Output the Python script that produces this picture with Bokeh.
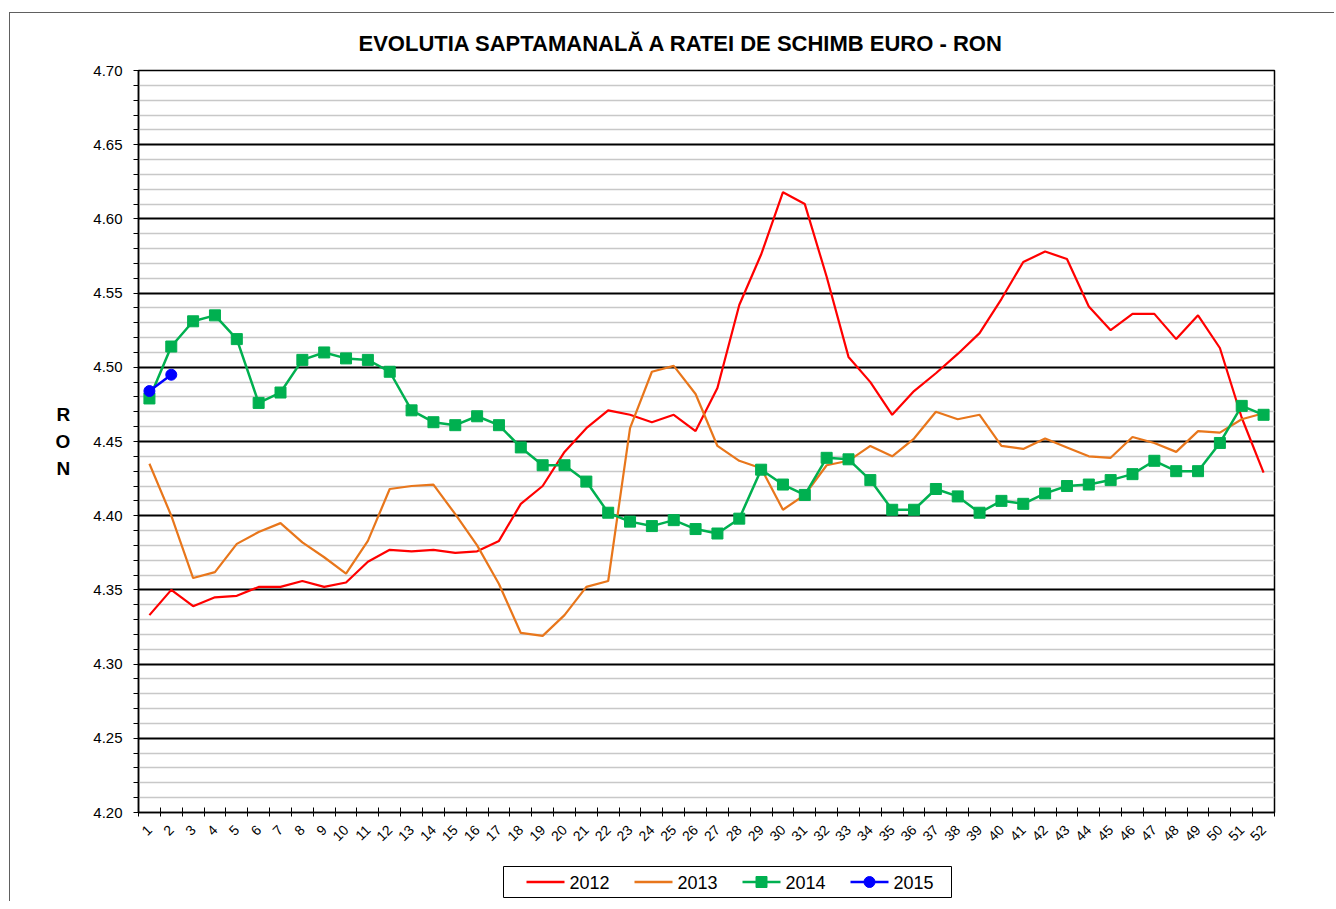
import math
from bokeh.plotting import figure
from bokeh.layouts import column
from bokeh.models import FixedTicker, NumeralTickFormatter, Range1d
from bokeh.core.properties import value
from bokeh.embed import file_html
from bokeh.resources import INLINE

weeks = list(range(1, 53))

y2012 = [4.333, 4.350, 4.339, 4.345, 4.346, 4.352, 4.352, 4.356, 4.352, 4.355,
         4.369, 4.377, 4.376, 4.377, 4.375, 4.376, 4.383, 4.408, 4.420, 4.443,
         4.459, 4.471, 4.468, 4.463, 4.468, 4.457, 4.486, 4.542, 4.576, 4.618,
         4.610, 4.561, 4.507, 4.490, 4.468, 4.484, 4.496, 4.509, 4.523, 4.546,
         4.571, 4.578, 4.573, 4.541, 4.525, 4.536, 4.536, 4.519, 4.535, 4.513,
         4.466, 4.429]

y2013 = [4.435, 4.400, 4.358, 4.362, 4.381, 4.389, 4.395, 4.382, 4.372, 4.361,
         4.383, 4.418, 4.420, 4.421, 4.401, 4.380, 4.354, 4.321, 4.319, 4.333,
         4.352, 4.356, 4.459, 4.497, 4.501, 4.482, 4.447, 4.437, 4.432, 4.404,
         4.414, 4.434, 4.437, 4.447, 4.440, 4.452, 4.470, 4.465, 4.468, 4.447,
         4.445, 4.452, 4.446, 4.440, 4.439, 4.453, 4.449, 4.443, 4.457, 4.456,
         4.465, 4.469]

y2014 = [4.479, 4.514, 4.531, 4.535, 4.519, 4.476, 4.483, 4.505, 4.510, 4.506,
         4.505, 4.497, 4.471, 4.463, 4.461, 4.467, 4.461, 4.446, 4.434, 4.434,
         4.423, 4.402, 4.396, 4.393, 4.397, 4.391, 4.388, 4.398, 4.431, 4.421,
         4.414, 4.439, 4.438, 4.424, 4.404, 4.404, 4.418, 4.413, 4.402, 4.410,
         4.408, 4.415, 4.420, 4.421, 4.424, 4.428, 4.437, 4.430, 4.430, 4.449,
         4.474, 4.468]

weeks2015 = [1, 2]
y2015 = [4.484, 4.495]

series_names = ["2012", "2013", "2014", "2015"]
series_colors = ["#ff0000", "#e8761b", "#00b050", "#0000ff"]
series_markers = [None, None, "square", "circle"]
y_major = [4.20, 4.25, 4.30, 4.35, 4.40, 4.45, 4.50, 4.55, 4.60, 4.65, 4.70]
y_minor = [round(4.20 + i * 0.01, 2) for i in range(51) if i % 5 != 0]

FONT = "Liberation Sans"
FRAME_W = 1136

p = figure(frame_width=FRAME_W, frame_height=742,
           min_border_left=128, min_border_top=57,
           min_border_right=60, min_border_bottom=53,
           x_range=Range1d(0.5, 52.5), y_range=Range1d(4.20, 4.70),
           output_backend="svg", toolbar_location=None,
           title="EVOLUTIA SAPTAMANALĂ A RATEI DE SCHIMB EURO - RON")

p.title.align = "left"
p.title.offset = 220
p.title.text_font = FONT
p.title.text_font_size = "22px"
p.title.text_font_style = "bold"
p.title.text_color = "black"
p.title.standoff = 30

p.background_fill_color = "white"
p.border_fill_color = "white"
p.outline_line_color = "black"
p.outline_line_width = 1.5

# y axis
p.yaxis.ticker = FixedTicker(ticks=y_major, minor_ticks=y_minor)
p.yaxis.formatter = NumeralTickFormatter(format="0.00")
p.yaxis.major_label_text_font = FONT
p.yaxis.major_label_text_font_size = "15px"
p.yaxis.major_label_text_color = "black"
p.yaxis.major_tick_in = 0
p.yaxis.major_tick_out = 5
p.yaxis.minor_tick_in = 0
p.yaxis.minor_tick_out = 5
p.yaxis.major_tick_line_color = "black"
p.yaxis.minor_tick_line_color = "black"
p.yaxis.axis_line_color = "black"
p.yaxis.axis_line_width = 1.5
p.yaxis.major_label_standoff = 11
p.yaxis.axis_label = "R\nO\nN"
p.yaxis.axis_label_orientation = "horizontal"
p.yaxis.axis_label_text_font = FONT
p.yaxis.axis_label_text_font_size = "19px"
p.yaxis.axis_label_text_font_style = "bold"
p.yaxis.axis_label_text_color = "black"
p.yaxis.axis_label_text_line_height = 1.3
p.yaxis.axis_label_standoff = 20

# x axis
p.xaxis.ticker = FixedTicker(ticks=weeks, minor_ticks=[w - 0.5 for w in weeks] + [52.5])
p.xaxis.major_label_orientation = math.pi / 4
p.xaxis.major_label_text_font = FONT
p.xaxis.major_label_text_font_size = "14px"
p.xaxis.major_label_text_color = "black"
p.xaxis.major_tick_line_color = None
p.xaxis.minor_tick_in = 5
p.xaxis.minor_tick_out = 4
p.xaxis.minor_tick_line_color = "black"
p.xaxis.axis_line_color = "black"
p.xaxis.axis_line_width = 1.5
p.xaxis.major_label_standoff = 9

# grids
p.xgrid.visible = False
p.ygrid.ticker = FixedTicker(ticks=y_major, minor_ticks=y_minor)
p.ygrid.grid_line_color = "black"
p.ygrid.grid_line_width = 2
p.ygrid.minor_grid_line_color = "#c8c8c8"
p.ygrid.minor_grid_line_width = 1.5

# series
p.line(weeks, y2012, line_color=series_colors[0], line_width=2.2)
p.line(weeks, y2013, line_color=series_colors[1], line_width=2.2)
p.line(weeks, y2014, line_color=series_colors[2], line_width=2.5)
p.scatter(weeks, y2014, marker="square", size=11, fill_color=series_colors[2],
          line_color=series_colors[2])
p.line(weeks2015, y2015, line_color=series_colors[3], line_width=2.5)
p.scatter(weeks2015, y2015, marker="circle", size=11, fill_color=series_colors[3],
          line_color=series_colors[3])

# legend strip: a small figure (frame aligned with the chart frame) whose data units are pixels
LH = 36
lg = figure(frame_width=FRAME_W, frame_height=LH,
            min_border_left=128, min_border_right=60,
            min_border_top=0, min_border_bottom=0,
            x_range=Range1d(0, FRAME_W), y_range=Range1d(0, LH),
            x_axis_type=None, y_axis_type=None,
            output_backend="svg", toolbar_location=None, title=None)
lg.outline_line_color = None
lg.xgrid.visible = False
lg.ygrid.visible = False
lg.background_fill_color = "white"
lg.border_fill_color = "white"

box_left, box_right, box_bottom, box_top = 365, 813, 4, 35
lg.quad(left=[box_left], right=[box_right], bottom=[box_bottom], top=[box_top],
        fill_color="white", line_color="black", line_width=1)

start, step, glen, tgap, yc = 388, 108, 38, 43, 19.5
x0s = [start + i * step for i in range(len(series_names))]
lg.segment(x0=x0s, y0=[yc] * 4, x1=[x + glen for x in x0s], y1=[yc] * 4,
           line_color=series_colors, line_width=2.5)
for i, m in enumerate(series_markers):
    if m is not None:
        lg.scatter([x0s[i] + glen / 2], [yc], marker=m, size=11,
                   fill_color=series_colors[i], line_color=series_colors[i])
lg.text(x=[x + tgap for x in x0s], y=[yc] * 4, text=series_names,
        text_font=value(FONT), text_font_size="18px", text_color="black",
        text_baseline="middle", text_align="left")

layout = column(p, lg, spacing=0)
layout.styles = {"margin-left": "9px", "margin-top": "12px",
                 "border-top": "1px solid #606060",
                 "border-left": "1px solid #606060"}

open("out.html", "w").write(file_html(layout, INLINE))
